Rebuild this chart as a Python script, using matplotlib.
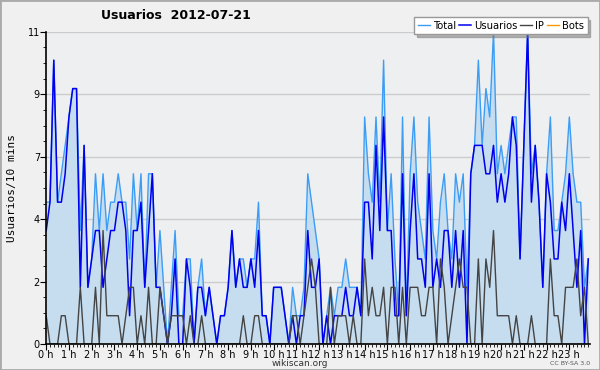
import matplotlib
matplotlib.use("Agg")
from matplotlib import pyplot as plt
from matplotlib.patches import Rectangle
import numpy as np

# values every 10 minutes, 2012-07-21
total = [5, 5, 10, 5, 6, 7, 8, 9, 9, 4, 7, 2, 3, 6, 4, 6, 4, 5, 5, 6, 5, 5, 3, 6,
         4, 6, 2, 6, 6, 2, 4, 2, 0, 2, 4, 1, 1, 3, 3, 0, 2, 3, 1, 2, 1, 0, 1, 1,
         2, 4, 2, 3, 3, 2, 3, 3, 5, 1, 1, 0, 2, 2, 2, 1, 0, 2, 1, 1, 2, 6, 5, 4,
         3, 0, 1, 2, 1, 2, 2, 3, 2, 2, 2, 1, 8, 6, 5, 8, 5, 10, 4, 6, 3, 1, 8, 1,
         6, 8, 5, 4, 3, 8, 4, 3, 5, 6, 4, 3, 6, 5, 6, 2, 6, 7, 10, 7, 9, 8, 11, 6,
         7, 6, 7, 8, 8, 3, 7, 11, 6, 7, 5, 2, 6, 8, 4, 4, 5, 6, 8, 6, 5, 5, 2, 3]
usuarios = [4, 5, 10, 5, 5, 6, 8, 9, 9, 2, 7, 2, 3, 4, 4, 2, 3, 4, 4, 5, 5, 4, 1, 4,
            4, 5, 2, 4, 6, 2, 2, 1, 0, 1, 3, 0, 0, 3, 2, 0, 2, 2, 1, 2, 1, 0, 1, 1,
            2, 4, 2, 3, 2, 2, 3, 2, 4, 1, 1, 0, 2, 2, 2, 1, 0, 1, 0, 1, 1, 4, 2, 2,
            3, 0, 1, 0, 1, 1, 1, 2, 1, 1, 2, 1, 5, 5, 3, 7, 4, 8, 4, 4, 1, 1, 6, 1,
            4, 6, 3, 3, 2, 6, 2, 3, 2, 4, 4, 2, 4, 2, 4, 0, 6, 7, 7, 7, 6, 6, 7, 5,
            6, 5, 6, 8, 7, 3, 7, 11, 5, 7, 5, 2, 6, 5, 3, 3, 5, 4, 6, 4, 2, 4, 0, 3]
ip = [1, 0, 0, 0, 1, 1, 0, 0, 0, 2, 0, 0, 0, 2, 0, 4, 1, 1, 1, 1, 0, 1, 2, 2,
      0, 1, 0, 2, 0, 0, 2, 1, 0, 1, 1, 1, 1, 0, 1, 0, 0, 1, 0, 0, 0, 0, 0, 0,
      0, 0, 0, 0, 1, 0, 0, 1, 1, 0, 0, 0, 0, 0, 0, 0, 0, 1, 1, 0, 1, 2, 3, 2,
      0, 0, 0, 2, 0, 1, 1, 1, 0, 1, 0, 0, 3, 1, 2, 1, 1, 2, 0, 2, 2, 0, 2, 0,
      2, 2, 2, 1, 1, 2, 2, 0, 3, 2, 0, 1, 2, 3, 2, 2, 0, 0, 3, 0, 3, 2, 4, 1,
      1, 1, 1, 0, 1, 0, 0, 0, 1, 0, 0, 0, 0, 3, 1, 1, 0, 2, 2, 2, 3, 1, 2, 0]
bots = [0] * 144
hour_labels = ["%d h" % h for h in range(24)]

x = np.arange(len(total)) / 6.0

fig = plt.figure(figsize=(6, 3.7), dpi=100, facecolor="#f0f0f0")
fig.patches.append(Rectangle((0, 0), 1, 1, transform=fig.transFigure, fill=False,
                             edgecolor="#aaaaaa", linewidth=2))
ax = fig.add_axes([0.077, 0.07, 0.906, 0.844])
ax.set_facecolor("#eeeff1")

ax.fill_between(x, 0, total, color="#c6ddf0", linewidth=0, zorder=1)
ax.plot(x, bots, color="#ff9900", lw=1, zorder=1.5)
l_tot, = ax.plot(x, total, color="#3d9df5", lw=1, zorder=2)
l_usr, = ax.plot(x, usuarios, color="#0000ee", lw=1.1, zorder=2.2)
l_ip, = ax.plot(x, ip, color="#444444", lw=1, zorder=2.3)
l_bot, = ax.plot([], [], color="#ff9900", lw=1)

ax.set_xlim(0, 23.9)
ax.set_ylim(0, 11)
yt = np.linspace(0, 11, 6)
ax.set_yticks(yt)
ax.set_yticklabels(["%d" % round(v) for v in yt])
ax.set_yticks(np.linspace(0, 11, 21), minor=True)
ax.set_xticks(range(24))
ax.set_xticklabels(hour_labels)
ax.set_xticks(np.arange(0, 23.9, 1 / 6.0), minor=True)
ax.tick_params(which="both", direction="out", color="black", labelsize=7, pad=0.5)
ax.tick_params(which="major", length=4)
ax.tick_params(which="minor", length=2.5)
ax.grid(axis="y", color="#cccccc", lw=1)
ax.set_axisbelow(True)
for s in ["top", "right"]:
    ax.spines[s].set_visible(False)
for s in ["left", "bottom"]:
    ax.spines[s].set_linewidth(1.2)
    ax.spines[s].set_zorder(3)

ax.set_ylabel("Usuarios/10 mins", family="DejaVu Sans Mono", fontsize=8, labelpad=8)
fig.text(0.168, 0.957, "Usuarios  2012-07-21", fontsize=9, fontweight="bold", va="center")
fig.text(0.5, 0.018, "wikiscan.org", fontsize=6.5, ha="center", va="center", color="#333333")
fig.text(0.983, 0.018, "CC BY-SA 3.0", fontsize=4.5, ha="right", va="center", color="#555555")

leg = ax.legend([l_tot, l_usr, l_ip, l_bot], ["Total", "Usuarios", "IP", "Bots"],
                ncol=4, loc="upper right", bbox_to_anchor=(1.005, 1.062), fontsize=7.2,
                handlelength=1.2, handletextpad=0.3, columnspacing=0.3,
                borderpad=0.35, fancybox=False, shadow={"color": "#777777"},
                framealpha=1, edgecolor="#999999")
leg.set_zorder(5)

fig.savefig("out.png", dpi=100, facecolor=fig.get_facecolor())
